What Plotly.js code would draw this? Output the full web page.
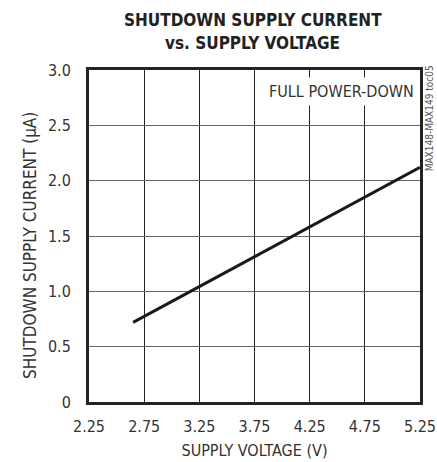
<!DOCTYPE html>
<html>
<head>
<meta charset="utf-8">
<script src="https://cdn.plot.ly/plotly-3.0.1.min.js"></script>
<style>html,body{margin:0;padding:0;background:#fff}#chart{width:437px;height:462px}</style>
</head>
<body>
<div id="chart"></div>
<script>
const supplyVoltage = [2.65, 4.25, 5.25];
const shutdownCurrent = [0.72, 1.585, 2.12];
const xTickVals = [2.25, 2.75, 3.25, 3.75, 4.25, 4.75, 5.25];
const xTickText = ["2.25", "2.75", "3.25", "3.75", "4.25", "4.75", "5.25"];
const yTickVals = [0, 0.5, 1.0, 1.5, 2.0, 2.5, 3.0];
const yTickText = ["0", "0.5", "1.0", "1.5", "2.0", "2.5", "3.0"];
const titleLines = ["SHUTDOWN SUPPLY CURRENT", "vs. SUPPLY VOLTAGE"];

const FONT = "'DejaVu Sans Condensed', 'Liberation Sans Narrow', sans-serif";

const trace = {
  x: supplyVoltage, y: shutdownCurrent, type: 'scatter', mode: 'lines',
  line: {color: '#1a1a1a', width: 3}, hoverinfo: 'skip', showlegend: false
};

const layout = {
  width: 437, height: 462,
  margin: {l: 89, r: 17, t: 70, b: 60, pad: 0},
  paper_bgcolor: '#fff', plot_bgcolor: '#fff',
  font: {family: FONT, size: 15, color: '#333'},
  xaxis: {
    range: [2.25, 5.25], tickvals: xTickVals, ticktext: xTickText,
    showgrid: true, gridcolor: '#222', gridwidth: 1,
    zeroline: false, showline: true, linecolor: '#222', linewidth: 3, mirror: true,
    ticks: '', ticklabelstandoff: 8,
    tickfont: {family: FONT, size: 16, color: '#333'},
    title: {text: 'SUPPLY VOLTAGE (V)', font: {family: FONT, size: 16, color: '#333'}, standoff: 10}
  },
  yaxis: {
    range: [0, 3.0], tickvals: yTickVals, ticktext: yTickText,
    showgrid: true, gridcolor: '#666', gridwidth: 1,
    zeroline: false, showline: true, linecolor: '#222', linewidth: 3, mirror: true,
    ticks: '', ticklabelstandoff: 12,
    tickfont: {family: FONT, size: 16, color: '#333'}
  },
  annotations: [
    {
      xref: 'paper', yref: 'paper', x: -0.178, y: 0.47, xanchor: 'center', yanchor: 'middle',
      text: 'SHUTDOWN SUPPLY CURRENT (µA)', showarrow: false, textangle: -90,
      font: {family: FONT, size: 17, color: '#333'}
    },
    {
      xref: 'paper', yref: 'paper', x: 0.996, y: 0.935, xanchor: 'right', yanchor: 'middle',
      text: 'FULL POWER-DOWN', showarrow: false, bgcolor: '#fff', borderpad: 4,
      font: {family: FONT, size: 16, color: '#333'}
    },
    {
      xref: 'paper', yref: 'paper', x: 1.0, xshift: 9, y: 1.02, xanchor: 'center', yanchor: 'top',
      text: 'MAX148-MAX149 toc05', showarrow: false, textangle: -90,
      font: {family: FONT, size: 10, color: '#555'}
    },
    {
      xref: 'paper', yref: 'paper', x: 0.494, y: 1.0, yshift: 50, xanchor: 'center', yanchor: 'middle',
      text: '<b>' + titleLines[0] + '</b>', showarrow: false,
      font: {family: FONT, size: 17, color: '#222'}
    },
    {
      xref: 'paper', yref: 'paper', x: 0.494, y: 1.0, yshift: 27, xanchor: 'center', yanchor: 'middle',
      text: '<b>' + titleLines[1] + '</b>', showarrow: false,
      font: {family: FONT, size: 17, color: '#222'}
    }
  ]
};

Plotly.newPlot('chart', [trace], layout, {displayModeBar: false, staticPlot: true});
</script>
</body>
</html>
